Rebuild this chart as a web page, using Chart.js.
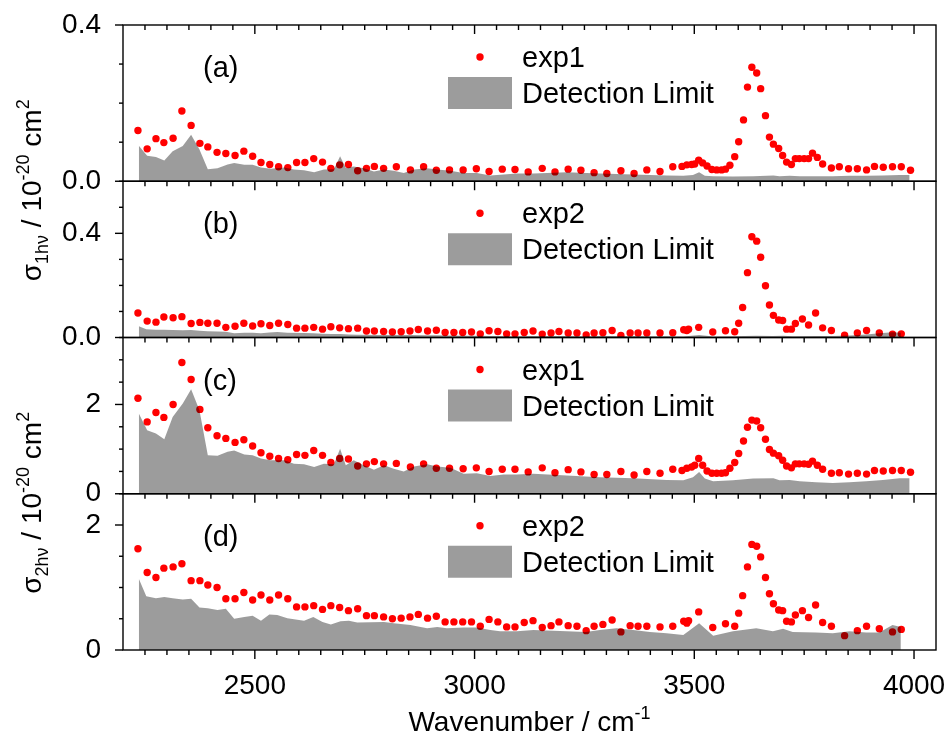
<!DOCTYPE html>
<html>
<head>
<meta charset="utf-8">
<script src="https://cdn.jsdelivr.net/npm/chart.js@4.4.1/dist/chart.umd.min.js"></script>
<style>
  html, body { margin: 0; padding: 0; background: #fff; }
</style>
</head>
<body>
<canvas id="chart" width="952" height="736"></canvas>
<script>
// wavenumbers of the measured points (cm-1)
const exp1X = [2234, 2255, 2275, 2293, 2314, 2334, 2355, 2375, 2393, 2414, 2434, 2455, 2475, 2495, 2514, 2534, 2554, 2575, 2595, 2614,
  2634, 2654, 2673, 2693, 2713, 2734, 2754, 2772, 2793, 2822, 2854, 2884, 2913, 2943, 2974, 3004, 3033, 3063, 3092,
  3122, 3154, 3183, 3213, 3242, 3272, 3301, 3333, 3363, 3392, 3422, 3451, 3472, 3483, 3494, 3501, 3510, 3519, 3529, 3540,
  3551, 3562, 3571, 3581, 3592, 3601, 3612, 3621, 3631, 3642, 3651, 3662, 3671, 3680, 3692, 3701, 3710, 3721, 3730, 3739,
  3750, 3760, 3769, 3780, 3792, 3812, 3830, 3851, 3871, 3892, 3910, 3930, 3951, 3971, 3992];
const exp2X = [2234, 2255, 2275, 2293, 2314, 2334, 2355, 2375, 2393, 2414, 2434, 2455, 2475, 2495, 2514, 2534, 2554, 2575, 2595, 2614,
  2634, 2654, 2673, 2693, 2713, 2734, 2754, 2772, 2793, 2813, 2833, 2853, 2872, 2893, 2913, 2933, 2953, 2973, 2993, 3013,
  3033, 3053, 3073, 3092, 3113, 3133, 3154, 3174, 3192, 3213, 3233, 3254, 3272, 3292, 3313, 3333, 3354, 3372, 3392, 3422,
  3451, 3476, 3483, 3487, 3510, 3542, 3571, 3592, 3601, 3610, 3621, 3631, 3642, 3651, 3662, 3671, 3680, 3692, 3701, 3710,
  3721, 3730, 3746, 3760, 3776, 3792, 3812, 3842, 3871, 3892, 3921, 3951, 3971];

// (a) sigma 1hv, exp1
const exp1A = [0.130, 0.083, 0.109, 0.099, 0.110, 0.180, 0.143, 0.097, 0.088, 0.074, 0.071, 0.066, 0.077, 0.064, 0.048, 0.043, 0.037, 0.035, 0.048, 0.048,
  0.058, 0.049, 0.033, 0.042, 0.043, 0.027, 0.033, 0.038, 0.033, 0.037, 0.029, 0.037, 0.028, 0.029, 0.029, 0.032, 0.025, 0.031, 0.030,
  0.024, 0.033, 0.024, 0.031, 0.028, 0.022, 0.020, 0.027, 0.020, 0.029, 0.025, 0.037, 0.038, 0.042, 0.043, 0.044, 0.054, 0.047, 0.039, 0.030,
  0.029, 0.029, 0.031, 0.041, 0.063, 0.101, 0.157, 0.241, 0.292, 0.277, 0.237, 0.168, 0.113, 0.095, 0.084, 0.066, 0.049, 0.043, 0.058, 0.058,
  0.058, 0.058, 0.072, 0.061, 0.044, 0.034, 0.037, 0.032, 0.032, 0.029, 0.038, 0.036, 0.037, 0.037, 0.028];
// (b) sigma 1hv, exp2
const exp2B = [0.094, 0.063, 0.059, 0.079, 0.076, 0.080, 0.054, 0.058, 0.055, 0.055, 0.039, 0.043, 0.055, 0.044, 0.053, 0.046, 0.055, 0.050, 0.036, 0.036,
  0.039, 0.032, 0.041, 0.037, 0.034, 0.036, 0.025, 0.025, 0.023, 0.021, 0.022, 0.025, 0.031, 0.025, 0.028, 0.019, 0.019, 0.019, 0.021, 0.014,
  0.026, 0.023, 0.014, 0.014, 0.019, 0.025, 0.013, 0.017, 0.023, 0.017, 0.017, 0.010, 0.017, 0.018, 0.027, 0.008, 0.017, 0.017, 0.017, 0.017,
  0.018, 0.030, 0.027, 0.032, 0.039, 0.021, 0.026, 0.022, 0.055, 0.115, 0.249, 0.387, 0.370, 0.308, 0.199, 0.125, 0.085, 0.067, 0.065, 0.032,
  0.032, 0.054, 0.071, 0.048, 0.094, 0.037, 0.027, 0.009, 0.017, 0.027, 0.017, 0.013, 0.014];
// (c) sigma 2hv, exp1
const exp1C = [2.14, 1.61, 1.82, 1.71, 2.00, 2.94, 2.56, 1.89, 1.48, 1.30, 1.24, 1.15, 1.21, 1.07, 0.92, 0.84, 0.79, 0.76, 0.88, 0.86,
  0.97, 0.86, 0.70, 0.79, 0.78, 0.62, 0.67, 0.72, 0.67, 0.68, 0.60, 0.67, 0.57, 0.57, 0.56, 0.58, 0.50, 0.55, 0.55,
  0.49, 0.58, 0.47, 0.54, 0.49, 0.43, 0.43, 0.50, 0.42, 0.50, 0.46, 0.55, 0.52, 0.57, 0.60, 0.64, 0.79, 0.64, 0.51, 0.46,
  0.46, 0.46, 0.47, 0.57, 0.70, 0.90, 1.18, 1.49, 1.65, 1.63, 1.48, 1.22, 0.99, 0.91, 0.85, 0.75, 0.62, 0.58, 0.67, 0.67,
  0.67, 0.66, 0.73, 0.64, 0.55, 0.46, 0.47, 0.44, 0.46, 0.44, 0.52, 0.51, 0.52, 0.52, 0.48];
// (d) sigma 2hv, exp2
const exp2D = [1.62, 1.24, 1.16, 1.31, 1.33, 1.38, 1.11, 1.11, 1.04, 1.00, 0.82, 0.82, 0.92, 0.80, 0.88, 0.80, 0.88, 0.82, 0.69, 0.69,
  0.71, 0.65, 0.71, 0.68, 0.63, 0.66, 0.55, 0.55, 0.53, 0.50, 0.51, 0.53, 0.57, 0.51, 0.54, 0.45, 0.45, 0.45, 0.45, 0.38,
  0.49, 0.45, 0.37, 0.37, 0.44, 0.47, 0.36, 0.39, 0.45, 0.39, 0.38, 0.31, 0.38, 0.41, 0.48, 0.29, 0.39, 0.38, 0.38, 0.37,
  0.38, 0.46, 0.43, 0.47, 0.61, 0.36, 0.42, 0.38, 0.59, 0.87, 1.33, 1.69, 1.66, 1.49, 1.16, 0.90, 0.74, 0.64, 0.63, 0.46,
  0.45, 0.56, 0.63, 0.52, 0.72, 0.44, 0.38, 0.23, 0.31, 0.38, 0.34, 0.29, 0.33];

// detection limits
const lim1X = [2236, 2255, 2275, 2294, 2313, 2336, 2355, 2374, 2393, 2415, 2438, 2453, 2476, 2495, 2514, 2536, 2567, 2589, 2612, 2635,
  2657, 2680, 2694, 2707, 2725, 2748, 2771, 2794, 2816, 2839, 2862, 2892, 2915, 2945, 2975, 3005, 3036, 3066, 3096,
  3134, 3210, 3285, 3361, 3437, 3475, 3497, 3511, 3524, 3543, 3588, 3634, 3680, 3694, 3717, 3740, 3777, 3815, 3853, 3891,
  3929, 3967, 3990];
const limA = [0.091, 0.065, 0.062, 0.053, 0.077, 0.090, 0.119, 0.081, 0.031, 0.033, 0.043, 0.047, 0.042, 0.042, 0.035, 0.032, 0.035, 0.030, 0.028, 0.023,
  0.030, 0.031, 0.064, 0.034, 0.038, 0.033, 0.025, 0.030, 0.027, 0.021, 0.030, 0.033, 0.030, 0.027, 0.021, 0.021, 0.015, 0.017, 0.020,
  0.020, 0.023, 0.020, 0.017, 0.015, 0.014, 0.016, 0.023, 0.014, 0.013, 0.012, 0.013, 0.015, 0.013, 0.014, 0.013, 0.013, 0.013, 0.014, 0.014,
  0.015, 0.016, 0.016];
const limC = [1.80, 1.42, 1.35, 1.22, 1.72, 2.02, 2.34, 1.87, 0.86, 0.85, 0.94, 0.97, 0.88, 0.86, 0.79, 0.75, 0.75, 0.67, 0.66, 0.60,
  0.67, 0.66, 1.01, 0.64, 0.75, 0.64, 0.54, 0.64, 0.56, 0.50, 0.61, 0.66, 0.61, 0.58, 0.45, 0.46, 0.40, 0.43, 0.43,
  0.45, 0.41, 0.37, 0.35, 0.31, 0.30, 0.37, 0.49, 0.34, 0.28, 0.30, 0.34, 0.35, 0.30, 0.31, 0.28, 0.26, 0.24, 0.26, 0.28,
  0.31, 0.35, 0.35];
const lim2X = [2236, 2253, 2275, 2294, 2313, 2336, 2355, 2374, 2393, 2415, 2434, 2453, 2476, 2495, 2514, 2533, 2551, 2574, 2612, 2633,
  2654, 2673, 2695, 2714, 2733, 2794, 2816, 2854, 2892, 2915, 2937, 2975, 3005, 3036, 3058, 3096,
  3134, 3210, 3253, 3285, 3323, 3361, 3399, 3437, 3475, 3511, 3543, 3588, 3641, 3679, 3702, 3724, 3777, 3815, 3853, 3891,
  3921, 3951, 3970];
const limB = [0.043, 0.032, 0.030, 0.030, 0.029, 0.028, 0.029, 0.026, 0.024, 0.023, 0.022, 0.016, 0.018, 0.018, 0.016, 0.019, 0.021, 0.018, 0.017, 0.016,
  0.014, 0.013, 0.013, 0.012, 0.011, 0.010, 0.010, 0.010, 0.009, 0.009, 0.008, 0.007, 0.007, 0.006, 0.006, 0.005,
  0.006, 0.006, 0.005, 0.006, 0.006, 0.006, 0.005, 0.005, 0.004, 0.010, 0.004, 0.005, 0.007, 0.006, 0.007, 0.005, 0.006, 0.006, 0.008, 0.012,
  0.016, 0.020, 0.018];
const limD = [1.14, 0.86, 0.83, 0.85, 0.83, 0.81, 0.82, 0.68, 0.67, 0.64, 0.66, 0.50, 0.53, 0.55, 0.47, 0.57, 0.56, 0.51, 0.47, 0.53,
  0.45, 0.41, 0.46, 0.47, 0.44, 0.45, 0.43, 0.40, 0.35, 0.37, 0.35, 0.36, 0.36, 0.32, 0.30, 0.30,
  0.32, 0.30, 0.29, 0.32, 0.35, 0.32, 0.29, 0.27, 0.24, 0.43, 0.23, 0.30, 0.35, 0.30, 0.34, 0.29, 0.28, 0.27, 0.30, 0.28,
  0.28, 0.40, 0.37];

// tick labels
const xTicks = [2500, 3000, 3500, 4000];
const yTicks1 = [0, 0.4];
const yTicks2 = [0, 2];

const FONT = '"Liberation Sans", Arial, sans-serif';
const GRAY = "rgba(0,0,0,0.39)";
const RED = "#ff0000";

const zip = (xs, ys) => xs.map((x, i) => ({ x: x, y: ys[i] }));

const panels = [
  { id: "ya", letter: "(a)", name: "exp1", xs: exp1X, ys: exp1A, lx: lim1X, ly: limA, max: 0.4, step: 0.1, labels: yTicks1, digits: 1, weight: 4 },
  { id: "yb", letter: "(b)", name: "exp2", xs: exp2X, ys: exp2B, lx: lim2X, ly: limB, max: 0.6, step: 0.1, labels: yTicks1, digits: 1, weight: 3 },
  { id: "yc", letter: "(c)", name: "exp1", xs: exp1X, ys: exp1C, lx: lim1X, ly: limC, max: 3.5, step: 0.5, labels: yTicks2, digits: 0, weight: 2 },
  { id: "yd", letter: "(d)", name: "exp2", xs: exp2X, ys: exp2D, lx: lim2X, ly: limD, max: 2.5, step: 0.5, labels: yTicks2, digits: 0, weight: 1 },
];

const isLabeled = (list, v) => list.some((t) => Math.abs(t - v) < 1e-9);

const datasets = [];
const scales = {
  x: {
    type: "linear",
    min: 2200,
    max: 4050,
    grid: { display: false, drawTicks: false },
    border: { display: false },
    afterBuildTicks: (s) => { s.ticks = xTicks.map((v) => ({ value: v })); },
    ticks: { autoSkip: false, maxRotation: 0, padding: 19, color: "#000", font: { family: FONT, size: 28 }, callback: (v) => String(v) },
    afterFit: (s) => { s.height = 86; s.paddingLeft = 0; s.paddingRight = 0; },
  },
};

panels.forEach((p) => {
  datasets.push({
    type: "line",
    label: "Detection Limit",
    data: zip(p.lx, p.ly),
    yAxisID: p.id,
    showLine: true,
    fill: "origin",
    backgroundColor: GRAY,
    borderColor: "rgba(0,0,0,0)",
    borderWidth: 0,
    pointRadius: 0,
    tension: 0,
    order: 0,
  });
  datasets.push({
    type: "scatter",
    label: p.name,
    data: zip(p.xs, p.ys),
    yAxisID: p.id,
    pointRadius: 3.7,
    pointBackgroundColor: RED,
    pointBorderWidth: 0,
    order: 1,
  });
  scales[p.id] = {
    type: "linear",
    position: "left",
    stack: "panels",
    stackWeight: 1,
    weight: p.weight,
    min: 0,
    max: p.max,
    grid: { display: false, drawTicks: false },
    border: { display: false },
    ticks: {
      stepSize: p.step,
      autoSkip: false,
      padding: 22,
      color: "#000",
      font: { family: FONT, size: 28 },
      callback: (v) => (isLabeled(p.labels, v) ? v.toFixed(p.digits) : ""),
    },
    afterFit: (s) => { s.width = 123; s.paddingTop = 0; s.paddingBottom = 0; },
  };
});

// text with sub/superscripts, parts = [text, shift] (shift -1 sub, 1 sup)
function richWidth(ctx, parts, big, small) {
  let w = 0;
  parts.forEach(([t, s]) => {
    ctx.font = (s === 0 ? big : small) + "px " + FONT;
    w += ctx.measureText(t).width;
  });
  return w;
}
function drawRich(ctx, parts, x, y, big, small) {
  let cx = x;
  parts.forEach(([t, s]) => {
    ctx.font = (s === 0 ? big : small) + "px " + FONT;
    const dy = s === 0 ? 0 : s < 0 ? big * 0.25 : -big * 0.42;
    ctx.fillText(t, cx, y + dy);
    cx += ctx.measureText(t).width;
  });
}

const yTitle1 = [["σ", 0], ["1hν", -1], [" / 10", 0], ["-20", 1], [" cm", 0], ["2", 1]];
const yTitle2 = [["σ", 0], ["2hν", -1], [" / 10", 0], ["-20", 1], [" cm", 0], ["2", 1]];
const xTitle = [["Wavenumber / cm", 0], ["-1", 1]];

const decor = {
  id: "decor",
  afterDatasetsDraw(chart) {
    const ctx = chart.ctx;
    const x = chart.scales.x;
    ctx.save();
    ctx.strokeStyle = "#000";
    ctx.lineWidth = 1.4;

    panels.forEach((p, i) => {
      const ys = chart.scales[p.id];
      ctx.strokeRect(x.left, ys.top, x.right - x.left, ys.bottom - ys.top);

      // x ticks hanging down from the top edge (and from the last bottom edge)
      const edges = [ys.top];
      if (i === panels.length - 1) edges.push(ys.bottom);
      edges.forEach((ey) => {
        for (let v = 2250; v <= 4000; v += 50) {
          const px = x.getPixelForValue(v);
          const len = v % 500 === 0 ? 9 : 5;
          ctx.beginPath();
          ctx.moveTo(px, ey);
          ctx.lineTo(px, ey + len);
          ctx.stroke();
        }
      });

      // y ticks pointing out to the left
      ys.ticks.forEach((t) => {
        const py = ys.getPixelForValue(t.value);
        const len = isLabeled(p.labels, t.value) ? 8 : 4;
        ctx.beginPath();
        ctx.moveTo(x.left - len, py);
        ctx.lineTo(x.left, py);
        ctx.stroke();
      });

      // legend and panel letter
      const top = ys.top;
      ctx.fillStyle = RED;
      ctx.beginPath();
      ctx.arc(480, top + 32, 3.7, 0, Math.PI * 2);
      ctx.fill();
      ctx.fillStyle = GRAY;
      ctx.fillRect(448, top + 52, 64, 32);
      ctx.fillStyle = "#000";
      ctx.font = "29px " + FONT;
      ctx.textAlign = "left";
      ctx.textBaseline = "alphabetic";
      ctx.fillText(p.name, 522, top + 42);
      ctx.fillText("Detection Limit", 522, top + 78);
      ctx.fillText(p.letter, 203, top + 52);
    });

    // y titles, each spanning two panels
    ctx.fillStyle = "#000";
    ctx.textBaseline = "alphabetic";
    [[yTitle1, "ya", "yb"], [yTitle2, "yc", "yd"]].forEach(([parts, a, b]) => {
      const cy = (chart.scales[a].top + chart.scales[b].bottom) / 2 + 9;
      const w = richWidth(ctx, parts, 28, 18);
      ctx.save();
      ctx.translate(41, cy);
      ctx.rotate(-Math.PI / 2);
      drawRich(ctx, parts, -w / 2, 0, 28, 18);
      ctx.restore();
    });

    // x title
    const w = richWidth(ctx, xTitle, 28, 18);
    drawRich(ctx, xTitle, (x.left + x.right) / 2 - w / 2, 731, 28, 18);
    ctx.restore();
  },
};

new Chart(document.getElementById("chart"), {
  type: "scatter",
  data: { datasets: datasets },
  options: {
    responsive: false,
    animation: false,
    devicePixelRatio: 1,
    events: [],
    layout: { padding: { top: 25, right: 16, bottom: 0, left: 0 } },
    plugins: { legend: { display: false }, tooltip: { enabled: false } },
    scales: scales,
  },
  plugins: [decor],
});
</script>
</body>
</html>
